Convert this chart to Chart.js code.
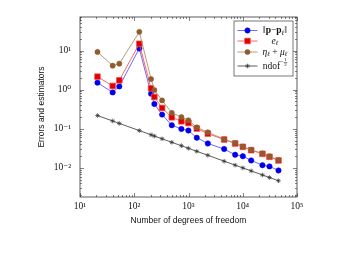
<!DOCTYPE html>
<html>
<head>
<meta charset="utf-8">
<script src="https://cdn.jsdelivr.net/npm/chart.js@4.4.0/dist/chart.umd.min.js"></script>
<style>html,body{margin:0;padding:0;background:#fff}</style>
</head>
<body>
<canvas id="myChart" width="338" height="253"></canvas>
<script>
// data
var ndof = [21, 40, 53, 124, 204, 235, 326, 492, 740, 995, 1422, 2271, 4540, 7244, 10040, 14290, 23080, 31100, 45600];
var errP = [1.51, 0.85, 1.21, 11.3, 0.79, 0.43, 0.23, 0.123, 0.099, 0.090, 0.059, 0.042, 0.0303, 0.0216, 0.0199, 0.0155, 0.0117, 0.0109, 0.0086];
var errE = [2.15, 1.24, 1.73, 14.9, 1.08, 0.65, 0.34, 0.196, 0.155, 0.14, 0.101, 0.075, 0.053, 0.042, 0.0345, 0.0283, 0.0229, 0.0192, 0.0155];
var estim = [9.2, 4.1, 4.6, 30, 1.87, 0.98, 0.53, 0.255, 0.20, 0.165, 0.109, 0.081, 0.054, 0.043, 0.0352, 0.0289, 0.0234, 0.0196, 0.0158];
var rate = [0.218, 0.158, 0.137, 0.0898, 0.070, 0.0652, 0.0554, 0.0451, 0.0368, 0.0317, 0.0265, 0.0210, 0.0148, 0.01175, 0.00998, 0.00837, 0.00658, 0.00567, 0.00468];

var xTicks = [1e1, 1e2, 1e3, 1e4, 1e5];
var xTickLabels = ['10¹', '10²', '10³', '10⁴', '10⁵'];
var yTicks = [1e-2, 1e-1, 1e0, 1e1];
var yTickLabels = ['10⁻²', '10⁻¹', '10⁰', '10¹'];
var seriesLabels = ['‖p−pℓ‖', 'eℓ', 'ηℓ + μℓ', 'ndof^(−1/2)'];

var SERIF = "'Liberation Serif','DejaVu Serif',serif";
var SANS = "'Liberation Sans','DejaVu Sans',sans-serif";

function pts(ys) {
  return ndof.map(function (x, i) { return {x: x, y: ys[i]}; });
}

// rich text for the legend entries
var legendText = [
  [{t: '‖'}, {t: 'p', b: 1}, {t: '−'}, {t: 'p', b: 1}, {t: 'ℓ', i: 1, sub: 1}, {t: '‖'}],
  [{t: 'e', i: 1}, {t: 'ℓ', i: 1, sub: 1}],
  [{t: 'η', i: 1}, {t: 'ℓ', i: 1, sub: 1}, {t: ' + '}, {t: 'μ', i: 1}, {t: 'ℓ', i: 1, sub: 1}],
  [{t: 'ndof'}, {t: '−', sup: 1}, {frac: ['1', '2']}]
];

function partFont(p) {
  var size = (p.sub || p.sup) ? 6.5 : 9.5;
  return (p.i ? 'italic ' : '') + (p.b ? 'bold ' : '') + size + 'px ' + SERIF;
}

function drawRich(ctx, parts, cx, cy) {
  var w = 0;
  parts.forEach(function (p) {
    if (p.frac) { ctx.font = '5px ' + SERIF; p.w = ctx.measureText('1').width + 1; }
    else { ctx.font = partFont(p); p.w = ctx.measureText(p.t).width; }
    w += p.w;
  });
  var x = cx - w / 2;
  ctx.textBaseline = 'middle';
  ctx.textAlign = 'left';
  parts.forEach(function (p) {
    if (p.frac) {
      ctx.font = '5px ' + SERIF;
      ctx.fillText(p.frac[0], x + 0.5, cy - 6);
      ctx.fillRect(x, cy - 3.6, p.w, 0.5);
      ctx.fillText(p.frac[1], x + 0.5, cy - 1);
    } else {
      ctx.font = partFont(p);
      var dy = p.sub ? 2.5 : (p.sup ? -3.5 : 0);
      ctx.fillText(p.t, x, cy + dy);
    }
    x += p.w;
  });
}

var framePlugin = {
  id: 'frame',
  afterDatasetsDraw: function (chart) {
    var ctx = chart.ctx, a = chart.chartArea;
    var xs = chart.scales.x, ys = chart.scales.y;
    ctx.save();
    ctx.strokeStyle = '#333';
    ctx.lineWidth = 0.6;
    ctx.beginPath();
    // x ticks, bottom and top, pointing inwards
    for (var e = 1; e <= 5; e++) {
      for (var k = 1; k <= 9; k++) {
        var v = k * Math.pow(10, e);
        if (v > xs.max) break;
        var px = Math.round(xs.getPixelForValue(v)) + 0.5;
        var len = k === 1 ? 4 : 2;
        ctx.moveTo(px, a.bottom); ctx.lineTo(px, a.bottom - len);
        ctx.moveTo(px, a.top); ctx.lineTo(px, a.top + len);
      }
    }
    // y ticks, left and right
    for (var e2 = -3; e2 <= 1; e2++) {
      for (var k2 = 1; k2 <= 9; k2++) {
        var v2 = k2 * Math.pow(10, e2);
        if (v2 < ys.min || v2 > ys.max) continue;
        var py = Math.round(ys.getPixelForValue(v2)) + 0.5;
        var len2 = k2 === 1 ? 4 : 2;
        ctx.moveTo(a.left, py); ctx.lineTo(a.left + len2, py);
        ctx.moveTo(a.right, py); ctx.lineTo(a.right - len2, py);
      }
    }
    ctx.stroke();
    ctx.lineWidth = 0.8;
    ctx.strokeRect(a.left, a.top, a.right - a.left, a.bottom - a.top);
    ctx.restore();
  },
  afterDraw: function (chart) {
    var ctx = chart.ctx, a = chart.chartArea;
    var bx = a.right - 63, by = a.top + 4, bw = 59, bh = 55;
    ctx.save();
    ctx.fillStyle = '#fff';
    ctx.fillRect(bx, by, bw, bh);
    ctx.strokeStyle = '#555';
    ctx.lineWidth = 0.8;
    ctx.strokeRect(bx, by, bw, bh);
    var rows = [by + 9.5, by + 20, by + 31, by + 45];
    chart.data.datasets.forEach(function (ds, i) {
      var y = rows[i];
      ctx.strokeStyle = ds.borderColor;
      ctx.lineWidth = ds.borderWidth;
      ctx.beginPath();
      ctx.moveTo(bx + 3.5, y); ctx.lineTo(bx + 23.5, y);
      ctx.stroke();
      ctx.fillStyle = ds.pointBackgroundColor;
      ctx.strokeStyle = ds.pointBorderColor;
      ctx.lineWidth = ds.pointBorderWidth;
      Chart.helpers.drawPoint(ctx, {pointStyle: ds.pointStyle, radius: ds.pointRadius, borderWidth: ds.pointBorderWidth}, bx + 13.5, y);
      ctx.fillStyle = '#111';
      drawRich(ctx, legendText[i], bx + 41, y);
    });
    ctx.restore();
  }
};

new Chart(document.getElementById('myChart').getContext('2d'), {
  type: 'scatter',
  data: {
    datasets: [{
      label: seriesLabels[0],
      data: pts(errP),
      showLine: true,
      borderColor: '#5a5aff',
      borderWidth: 0.9,
      pointStyle: 'circle',
      pointRadius: 2.7,
      pointBackgroundColor: '#0000ee',
      pointBorderColor: '#0000ee',
      pointBorderWidth: 0.5,
      order: 4
    }, {
      label: seriesLabels[1],
      data: pts(errE),
      showLine: true,
      borderColor: '#ff5555',
      borderWidth: 0.9,
      pointStyle: 'rect',
      pointRadius: 4,
      pointBackgroundColor: '#dd0000',
      pointBorderColor: '#ff4a4a',
      pointBorderWidth: 0.7,
      order: 3
    }, {
      label: seriesLabels[2],
      data: pts(estim),
      showLine: true,
      borderColor: '#b38c66',
      borderWidth: 0.9,
      pointStyle: 'circle',
      pointRadius: 2.6,
      pointBackgroundColor: '#8f5c2e',
      pointBorderColor: '#8f5c2e',
      pointBorderWidth: 0.5,
      order: 2
    }, {
      label: seriesLabels[3],
      data: pts(rate),
      showLine: true,
      borderColor: '#333',
      borderWidth: 0.8,
      pointStyle: 'star',
      pointRadius: 2.3,
      pointBackgroundColor: '#333',
      pointBorderColor: '#333',
      pointBorderWidth: 0.7,
      order: 1
    }]
  },
  options: {
    responsive: false,
    animation: false,
    events: [],
    layout: {padding: {left: 0, top: 17, right: 41, bottom: 0}},
    plugins: {legend: {display: false}, tooltip: {enabled: false}},
    scales: {
      x: {
        type: 'logarithmic',
        min: 10,
        max: 1e5,
        afterBuildTicks: function (s) { s.ticks = xTicks.map(function (v) { return {value: v}; }); },
        afterFit: function (s) { s.height = 56; },
        grid: {display: false, drawTicks: false},
        border: {display: false},
        ticks: {
          autoSkip: false, maxRotation: 0, padding: 4, color: '#111',
          font: {family: SERIF, size: 9.5},
          callback: function (v, i) { return xTickLabels[i]; }
        },
        title: {display: true, text: 'Number of degrees of freedom', color: '#111',
          font: {family: SANS, size: 8.5}, padding: {top: 0, bottom: 27}}
      },
      y: {
        type: 'logarithmic',
        min: 0.0018,
        max: 72,
        afterBuildTicks: function (s) { s.ticks = yTicks.map(function (v) { return {value: v}; }); },
        afterFit: function (s) { s.width = 80; },
        grid: {display: false, drawTicks: false},
        border: {display: false},
        ticks: {
          autoSkip: false, padding: 9, color: '#111',
          font: {family: SERIF, size: 9.5},
          callback: function (v, i) { return yTickLabels[i]; }
        },
        title: {display: true, text: 'Errors and estimators', color: '#111',
          font: {family: SANS, size: 8.5}, padding: {top: 37, bottom: 0}}
      }
    }
  },
  plugins: [framePlugin]
});
</script>
</body>
</html>
